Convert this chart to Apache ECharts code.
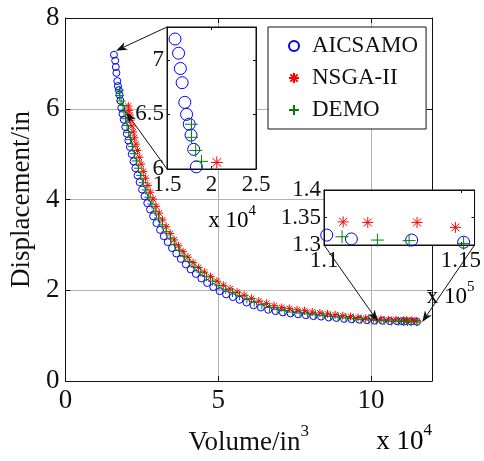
<!DOCTYPE html>
<html>
<head>
<meta charset="utf-8">
<script src="https://cdn.jsdelivr.net/npm/echarts@6/dist/echarts.min.js"></script>
<style>
  html, body { margin: 0; padding: 0; background: #fff; }
  #chart { width: 484px; height: 461px; }
</style>
</head>
<body>
<div id="chart"></div>
<script>
// Pareto fronts: volume (in^3) vs. displacement (in)
const seriesNames = ['AICSAMO', 'NSGA-II', 'DEMO'];

const aicsamoVolume = [15900, 16300, 16500, 16700, 17000, 17200, 17500, 17700, 18000, 18300,
  18700, 19100, 19600, 20100, 20600, 21100, 21700, 22300, 22900, 23600,
  24300, 25100, 25900, 26800, 27700, 28700, 29800, 31000, 32200, 33500,
  34900, 36300, 37800, 39400, 41000, 42700, 44500, 46400, 48400, 50500,
  52600, 54800, 57000, 59300, 61600, 64000, 66400, 68800, 71200, 73700,
  76200, 78700, 81200, 83700, 86200, 88700, 91200, 93700, 96200, 98700,
  101200, 103700, 106200, 108500, 110100, 111000, 113200, 115100];
const aicsamoDisp = [7.19, 7.06, 6.92, 6.79, 6.61, 6.50, 6.41, 6.31, 6.18, 6.02,
  5.89, 5.76, 5.60, 5.45, 5.30, 5.16, 5.00, 4.84, 4.69, 4.53,
  4.38, 4.22, 4.07, 3.92, 3.78, 3.63, 3.48, 3.33, 3.19, 3.06,
  2.93, 2.81, 2.69, 2.57, 2.46, 2.36, 2.26, 2.16, 2.07, 1.98,
  1.91, 1.85, 1.79, 1.73, 1.67, 1.62, 1.57, 1.54, 1.51, 1.49,
  1.47, 1.45, 1.43, 1.42, 1.40, 1.39, 1.37, 1.36, 1.35, 1.34,
  1.33, 1.33, 1.32, 1.32, 1.318, 1.311, 1.309, 1.305];

const nsgaVolume = [20600, 20800, 21100, 21400, 21800, 22200, 22600, 23100, 23600, 24200,
  24800, 25500, 26200, 27000, 27800, 28700, 29700, 30700, 31800, 33000,
  34300, 35600, 37000, 38500, 40100, 41800, 43600, 45500, 47500, 49600,
  51700, 53900, 56200, 58500, 60900, 63300, 65800, 68300, 70800, 73300,
  75800, 78300, 80800, 83300, 85800, 88300, 90800, 93300, 95800, 98300,
  100800, 103300, 105800, 108200, 110700, 111600, 113400, 114800];
const nsgaDisp = [6.06, 5.96, 5.86, 5.75, 5.62, 5.49, 5.36, 5.22, 5.08, 4.93,
  4.78, 4.62, 4.47, 4.31, 4.16, 4.01, 3.85, 3.70, 3.55, 3.40,
  3.25, 3.11, 2.98, 2.85, 2.73, 2.61, 2.50, 2.40, 2.30, 2.20,
  2.11, 2.03, 1.96, 1.89, 1.82, 1.76, 1.71, 1.66, 1.62, 1.60,
  1.57, 1.55, 1.52, 1.50, 1.48, 1.46, 1.44, 1.42, 1.40, 1.38,
  1.37, 1.36, 1.35, 1.35, 1.342, 1.341, 1.341, 1.332];

const demoVolume = [17750, 17750, 18230, 18880, 19200, 19700, 20200, 20700, 21300, 21900,
  22500, 23200, 23900, 24700, 25500, 26400, 27300, 28300, 29400, 30500,
  31700, 33000, 34400, 35800, 37300, 38900, 40600, 42400, 44300, 46200,
  48200, 50300, 52500, 54700, 57000, 59400, 61800, 64300, 66800, 69300,
  71800, 74300, 76800, 79300, 81800, 84300, 86800, 89300, 91800, 94300,
  96800, 99300, 101800, 104300, 106800, 109000, 110660, 111950, 113110, 115100];
const demoDisp = [6.41, 6.29, 6.17, 6.07, 5.93, 5.78, 5.63, 5.48, 5.32, 5.17,
  5.01, 4.85, 4.69, 4.53, 4.37, 4.21, 4.05, 3.90, 3.74, 3.59,
  3.44, 3.29, 3.15, 3.01, 2.88, 2.75, 2.63, 2.51, 2.40, 2.30,
  2.20, 2.10, 2.02, 1.95, 1.88, 1.81, 1.74, 1.68, 1.62, 1.58,
  1.55, 1.52, 1.50, 1.48, 1.46, 1.44, 1.42, 1.41, 1.39, 1.37,
  1.36, 1.35, 1.34, 1.33, 1.32, 1.32, 1.315, 1.309, 1.308, 1.303];

// Axis ranges: main plot and the two zoomed views
const mainX = { min: 0, max: 120000, interval: 50000, scale: 1e4 };
const mainY = { min: 0, max: 8, interval: 2 };
const zoom1X = { min: 15000, max: 25000, interval: 5000, scale: 1e4 };
const zoom1Y = { min: 6, max: 7.3, interval: 0.5 };
const zoom2X = { min: 110000, max: 115500, interval: 5000, scale: 1e5 };
const zoom2Y = { min: 1.3, max: 1.4, interval: 0.05 };

// Arrow anchors: [zoom-view corner, target on the main front]
const arrowLinks = [
  { grid: 1, corner: [15000, 7.3], target: [16600, 7.28] },
  { grid: 1, corner: [15000, 6.0], target: [19900, 5.92] },
  { grid: 2, corner: [110000, 1.3], target: [102200, 1.32] },
  { grid: 2, corner: [115500, 1.3], target: [116800, 1.30] }
];

const FONT = '"Liberation Serif", "Times New Roman", serif';
const INK = '#111';
const BLUE = '#0000ff', RED = '#ff0000', GREEN = '#008000';
const STAR = 'path://M0,-6L0,6M-6,0L6,0M-4.3,-4.3L4.3,4.3M-4.3,4.3L4.3,-4.3';
const PLUS = 'path://M0,-6L0,6M-6,0L6,0';
const TICK_FONT = 27, ZOOM_FONT = 23;

function zip(xs, ys) { return xs.map((x, i) => [x, ys[i]]); }

function fmtNum(v) { return String(+v.toFixed(3)); }

function makeAxes(dim, gridIndex, range, fontSize, tickLen, extra) {
  const primary = Object.assign({
    type: 'value', gridIndex: gridIndex,
    min: range.min, max: range.max, interval: range.interval,
    position: dim === 'x' ? 'bottom' : 'left',
    z: gridIndex === 0 ? 1 : 11,
    axisLine: { show: true, onZero: false, lineStyle: { color: INK, width: 1 } },
    axisTick: { show: true, inside: true, length: tickLen, lineStyle: { color: INK, width: 1 } },
    axisLabel: {
      color: INK, fontFamily: FONT, fontSize: fontSize,
      margin: gridIndex === 0 ? 6 : 4,
      formatter: v => fmtNum(range.scale ? v / range.scale : v)
    },
    splitLine: { show: gridIndex === 0, lineStyle: { color: '#b2b2b2', width: 1 } }
  }, extra || {});
  const secondary = {
    type: 'value', gridIndex: gridIndex,
    min: range.min, max: range.max, interval: range.interval,
    position: dim === 'x' ? 'top' : 'right',
    z: gridIndex === 0 ? 1 : 11,
    axisLine: { show: true, onZero: false, lineStyle: { color: INK, width: 1 } },
    axisTick: { show: true, inside: true, length: tickLen, lineStyle: { color: INK, width: 1 } },
    axisLabel: { show: false },
    splitLine: { show: false }
  };
  return [primary, secondary];
}

const labelRich = (big, small) => ({
  b: { fontFamily: FONT, fontSize: big, color: INK, lineHeight: big + 6, verticalAlign: 'bottom' },
  s: { fontFamily: FONT, fontSize: small, color: INK, lineHeight: small + 2, verticalAlign: 'top' }
});

const xAxes = [].concat(
  makeAxes('x', 0, mainX, TICK_FONT, 5, {
    name: '{b|Volume/in}{s|3}', nameLocation: 'middle', nameGap: 42,
    nameTextStyle: { rich: labelRich(27, 17) },
    axisLabel: { color: INK, fontFamily: FONT, fontSize: TICK_FONT, margin: 6, showMaxLabel: false,
      formatter: v => fmtNum(v / mainX.scale) }
  }),
  makeAxes('x', 1, zoom1X, ZOOM_FONT, 3),
  makeAxes('x', 2, zoom2X, ZOOM_FONT, 3, {
    axisLabel: { color: INK, fontFamily: FONT, fontSize: ZOOM_FONT, margin: 4, showMaxLabel: false,
      formatter: v => fmtNum(v / zoom2X.scale) }
  })
);
const yAxes = [].concat(
  makeAxes('y', 0, mainY, TICK_FONT, 5, {
    name: 'Displacement/in', nameLocation: 'middle', nameGap: 24,
    nameTextStyle: { fontFamily: FONT, fontSize: 27, color: INK }
  }),
  makeAxes('y', 1, zoom1Y, ZOOM_FONT, 3, {
    axisLabel: { color: INK, fontFamily: FONT, fontSize: ZOOM_FONT, margin: 3, showMaxLabel: false,
      formatter: v => fmtNum(v) }
  }),
  makeAxes('y', 2, zoom2Y, ZOOM_FONT, 3, {
    axisLabel: { color: INK, fontFamily: FONT, fontSize: ZOOM_FONT, margin: 3,
      formatter: v => fmtNum(v) }
  })
);

const groups = [
  { name: seriesNames[0], data: zip(aicsamoVolume, aicsamoDisp), symbol: 'circle', color: BLUE, sizes: [7, 12, 12] },
  { name: seriesNames[1], data: zip(nsgaVolume, nsgaDisp), symbol: STAR, color: RED, sizes: [8, 12, 11] },
  { name: seriesNames[2], data: zip(demoVolume, demoDisp), symbol: PLUS, color: GREEN, sizes: [9, 13, 13] }
];

const series = [];
[0, 1, 2].forEach(g => {
  groups.forEach(grp => {
    series.push({
      type: 'scatter', name: grp.name,
      xAxisIndex: g * 2, yAxisIndex: g * 2,
      data: grp.data, symbol: grp.symbol, symbolSize: grp.sizes[g],
      clip: true, silent: true,
      z: g === 0 ? 2 : 12,
      itemStyle: { color: 'rgba(0,0,0,0)', borderColor: grp.color, borderWidth: 1, opacity: 1 },
      emphasis: { disabled: true }
    });
  });
});

const option = {
  animation: false,
  backgroundColor: '#fff',
  grid: [
    { left: 62, top: 18, width: 370, height: 370, show: false },
    { left: 167, top: 27, width: 89, height: 142, show: true, backgroundColor: '#fff',
      borderColor: INK, borderWidth: 1, z: 10 },
    { left: 324, top: 190, width: 156, height: 55, show: true, backgroundColor: '#fff',
      borderColor: INK, borderWidth: 1, z: 10 }
  ],
  xAxis: xAxes,
  yAxis: yAxes,
  legend: {
    data: seriesNames, orient: 'vertical', left: 268, top: 27,
    padding: [6, 8, 6, 20], itemGap: 6, itemWidth: 10, itemHeight: 10,
    backgroundColor: '#fff', borderColor: INK, borderWidth: 1,
    selectedMode: false, z: 15,
    textStyle: { fontFamily: FONT, fontSize: 23, color: INK, lineHeight: 26, padding: [0, 0, 0, 8] }
  },
  series: series
};

const chart = echarts.init(document.getElementById('chart'), null, { renderer: 'canvas' });
chart.setOption(option);

// Exponent labels and arrows placed from the axes' own pixel mapping
function toPx(grid, pt) {
  return chart.convertToPixel({ xAxisIndex: grid * 2, yAxisIndex: grid * 2 }, pt);
}

function arrowShapes(from, to) {
  const dx = to[0] - from[0], dy = to[1] - from[1];
  const len = Math.hypot(dx, dy);
  const ux = dx / len, uy = dy / len, nx = -uy, ny = ux;
  const L = 11, W = 4.2, notch = 8;
  const bx = to[0] - ux * L, by = to[1] - uy * L;
  const mx = to[0] - ux * notch, my = to[1] - uy * notch;
  return [
    { type: 'line', z: 30, silent: true,
      shape: { x1: from[0], y1: from[1], x2: mx, y2: my },
      style: { stroke: INK, lineWidth: 1 } },
    { type: 'polygon', z: 30, silent: true,
      shape: { points: [to, [bx + nx * W, by + ny * W], [mx, my], [bx - nx * W, by - ny * W]] },
      style: { fill: INK } }
  ];
}

const graphics = [];
arrowLinks.forEach(a => {
  const from = toPx(a.grid, a.corner);
  const to = toPx(0, a.target);
  graphics.push(...arrowShapes(from, to));
});

function exponentLabel(grid, range, yRange, power, big, small, dy) {
  const p = toPx(grid, [range.max, yRange.min]);
  return {
    type: 'text', z: 30, silent: true, x: p[0], y: p[1] + dy,
    style: { text: '{b|x 10}{s|' + power + '}', align: 'right', verticalAlign: 'middle',
      rich: labelRich(big, small) }
  };
}
graphics.push(exponentLabel(0, mainX, mainY, 4, 27, 17, 58));
graphics.push(exponentLabel(1, zoom1X, zoom1Y, 4, 23, 15, 49));
graphics.push(exponentLabel(2, zoom2X, zoom2Y, 5, 23, 15, 49));

chart.setOption({ graphic: graphics });
</script>
</body>
</html>
